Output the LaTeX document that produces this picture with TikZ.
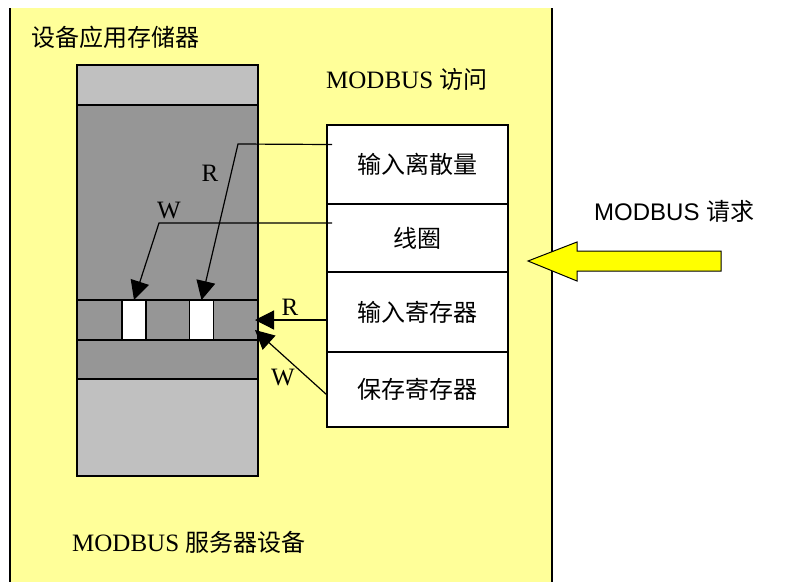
\documentclass[tikz,border=0pt]{standalone}
\usepackage{fontspec}
\setmainfont{Liberation Serif}
\newfontfamily\cjk{Noto Sans CJK SC}
\newfontfamily\arialf{Liberation Sans}
\usetikzlibrary{arrows.meta,positioning}
\definecolor{pale}{HTML}{FFFF99}
\definecolor{lgray}{HTML}{C0C0C0}
\definecolor{dgray}{HTML}{969696}
\definecolor{bright}{HTML}{FFFF00}
\begin{document}
\begin{tikzpicture}[x=1pt,y=-1pt,
band/.style={draw,line width=1.2pt,minimum width=181pt,inner sep=0pt,outer sep=0pt},
regbox/.style={draw,line width=1.2pt,fill=white,minimum width=181pt,inner sep=0pt,outer sep=0pt,font=\cjk\fontsize{24}{28}\selectfont},
slot/.style={draw,line width=1.2pt,fill=white,minimum width=24pt,minimum height=40pt,inner sep=0pt,outer sep=0pt},
acc/.style={line width=1.2pt,-{Triangle[length=19pt,width=19pt]}},
lab/.style={font=\fontsize{25}{28}\selectfont,inner sep=0pt}]
\useasboundingbox (0,0) rectangle (790,582);
\fill[pale] (10,8) rectangle (552,582);
\draw[line width=1.5pt] (10,8)--(10,582) (552,8)--(552,582);
% memory column
\node[band,fill=lgray,minimum height=40pt] (top) at (167.5,85) {};
\node[band,fill=dgray,minimum height=195pt,below=0pt of top] (mid) {};
\node[band,fill=dgray,minimum height=40pt,below=0pt of mid] (strip) {};
\node[band,fill=dgray,minimum height=39pt,below=0pt of strip] (low) {};
\node[band,fill=lgray,minimum height=97pt,below=0pt of low] (bot) {};
\node[slot] (slotA) at (134,320) {};
\node[slot] (slotB) at (201.5,320) {};
% register table
\node[regbox,minimum height=79pt] (di) at (417.5,164.5) {输入离散量};
\node[regbox,minimum height=68pt,below=0pt of di] (co) {线圈};
\node[regbox,minimum height=80pt,below=0pt of co] (ir) {输入寄存器};
\node[regbox,minimum height=75pt,below=0pt of ir] (hr) {保存寄存器};
% access arrows
\coordinate (rIn) at ([xshift=5pt,yshift=20pt]di.west);
\coordinate (wIn) at ([xshift=5pt,yshift=15pt]co.west);
\draw[acc] (rIn)--(238,144)--(slotB.north);
\draw[acc] (wIn)--(159,223)--(slotA.north);
\draw[acc] (ir.west |- strip.east)--([xshift=-3pt]strip.east);
\draw[acc] ([yshift=-5.5pt]hr.west)--([xshift=-3pt,yshift=-10pt]strip.east);
\node[lab] (r1) at (210,173) {R};
\node[lab] (w1) at (169,210) {W};
\node[lab] (r2) at (290,307) {R};
\node[lab] (w2) at (283,377) {W};
% request arrow
\draw[fill=bright,line width=1pt] (721,251)--(577,251)--(577,242)--(528,261)--(577,281)--(577,271)--(721,271)--cycle;
% texts
\node[anchor=west,inner sep=0pt,font=\cjk\fontsize{24}{28}\selectfont] (app) at (31,37) {设备应用存储器};
\node[anchor=west,inner sep=0pt,font=\fontsize{25}{28}\selectfont] (acs) at (326,79) {MODBUS {\cjk\fontsize{24}{28}\selectfont 访问}};
\node[anchor=west,inner sep=0pt,font=\fontsize{25}{28}\selectfont] (srv) at (72,542) {MODBUS {\cjk\fontsize{24}{28}\selectfont 服务器设备}};
\node[anchor=west,inner sep=0pt,font=\arialf\fontsize{24}{28}\selectfont] (req) at (594,211) {MODBUS {\cjk 请求}};
\end{tikzpicture}
\end{document}
